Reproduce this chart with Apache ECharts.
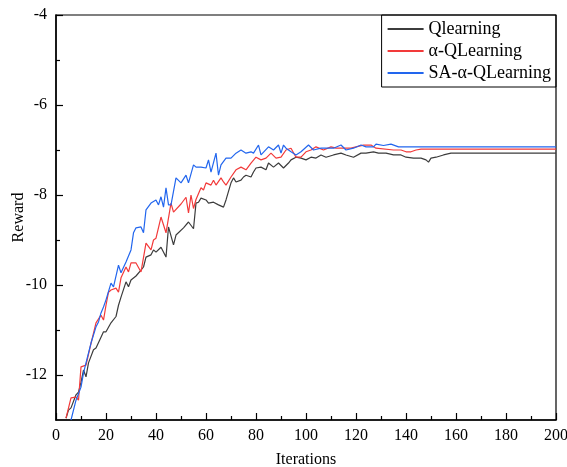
<!DOCTYPE html>
<html>
<head>
<meta charset="utf-8">
<script src="https://cdn.jsdelivr.net/npm/echarts@6/dist/echarts.min.js"></script>
<style>
  html, body { margin: 0; padding: 0; background: #fff; }
  #main { width: 567px; height: 467px; }
</style>
</head>
<body>
<div id="main"></div>
<script>
// Qlearning
var qIter = [4,5,6,8,9,10,11,12,13,15, 16,18,19,20,22,24,25,26,28,29,
  30,32,34,35,36,38,39,40,42,44, 45,47,48,51,53,55,56,57,58,60,
  61,63,65,67,68,70,71,72,74,75, 76,78,79,80,82,84,85,87,89,91,
  93,94,96,98,100,102,104,106,108,111, 114,116,119,122,124,127,129,132,135,138,
  140,143,146,148,149,150,152,155,158,160, 200];
var qReward = [-12.96,-12.78,-12.73,-12.44,-12.38,-12.16,-11.89,-12.04,-11.73,-11.44,
  -11.4,-11.16,-11.04,-11.04,-10.84,-10.7,-10.45,-10.27,-9.93,-10.04,
  -9.89,-9.8,-9.67,-9.6,-9.38,-9.33,-9.22,-9.27,-9.16,-9.38,
  -8.71,-9.11,-8.89,-8.73,-8.6,-8.75,-8.18,-8.16,-8.07,-8.11,
  -8.18,-8.16,-8.22,-8.27,-8.11,-7.73,-7.62,-7.71,-7.67,-7.6,
  -7.56,-7.6,-7.49,-7.4,-7.38,-7.44,-7.29,-7.38,-7.29,-7.4,
  -7.29,-7.22,-7.16,-7.18,-7.22,-7.16,-7.18,-7.11,-7.16,-7.11,
  -7.07,-7.11,-7.16,-7.07,-7.07,-7.04,-7.07,-7.07,-7.11,-7.11,
  -7.16,-7.18,-7.18,-7.22,-7.27,-7.18,-7.16,-7.11,-7.07,-7.07,
  -7.07];

// α-QLearning
var aIter = [4,6,8,9,10,12,14,16,18,19, 20,21,22,24,25,26,28,29,30,32,
  34,36,38,39,40,42,44,46,47,50, 52,53,54,55,56,58,59,60,62,63,
  64,66,67,68,70,72,74,76,78,80, 82,84,86,88,90,92,94,96,98,100,
  102,104,107,110,112,115,118,120,123,126, 128,135,138,140,142,144,146,200];
var aReward = [-12.96,-12.51,-12.49,-12.56,-11.82,-11.78,-11.3,-10.84,-10.67,-10.78,
  -10.45,-10.16,-10.11,-10.07,-10.16,-9.84,-9.6,-9.71,-9.51,-9.51,
  -9.71,-9.07,-9.22,-9.0,-8.96,-8.49,-8.84,-8.18,-8.38,-8.2,
  -8.05,-8.4,-8.0,-8.3,-8.1,-7.84,-7.89,-7.73,-7.78,-7.67,
  -7.78,-7.62,-7.71,-7.78,-7.6,-7.44,-7.38,-7.44,-7.29,-7.16,
  -7.22,-7.18,-7.07,-7.18,-7.16,-7.0,-6.96,-7.16,-7.16,-7.04,
  -7.0,-6.93,-7.0,-6.93,-6.96,-6.96,-6.96,-6.93,-6.89,-6.89,
  -6.96,-7.0,-7.0,-7.04,-7.04,-7.0,-6.98,-6.98];

// SA-α-QLearning
var sIter = [6,8,10,11,12,14,16,17,18,19, 20,22,23,25,26,28,30,31,32,34,
  35,36,38,40,41,42,43,44,45,46, 48,50,52,53,55,56,58,60,61,62,
  64,65,66,68,70,72,74,76,78,79, 81,82,85,87,89,90,91,92,94,96,
  98,101,103,106,108,111,114,116,119,122, 124,127,128,131,134,137,139,200];
var sReward = [-13.0,-12.56,-12.27,-11.96,-11.73,-11.29,-10.93,-10.82,-10.62,-10.49,
  -10.33,-9.96,-10.04,-9.56,-9.73,-9.49,-9.22,-8.84,-8.73,-8.71,
  -8.84,-8.33,-8.18,-8.11,-8.22,-8.04,-8.27,-7.84,-8.22,-8.22,
  -7.62,-7.73,-7.56,-7.73,-7.33,-7.38,-7.38,-7.4,-7.22,-7.49,
  -7.07,-7.56,-7.33,-7.18,-7.18,-7.07,-7.0,-7.07,-7.04,-7.07,
  -6.89,-7.11,-6.93,-7.0,-6.89,-7.07,-6.89,-6.96,-7.04,-7.11,
  -7.04,-6.89,-7.0,-6.96,-6.96,-6.96,-6.89,-7.0,-6.96,-6.89,
  -6.93,-6.93,-6.87,-6.9,-6.87,-6.93,-6.93,-6.93];

var names = ['Qlearning', 'α-QLearning', 'SA-α-QLearning'];
var colors = ['#3c3c3c', '#f23a3a', '#2266ee'];
var yMajor = [-12, -10, -8, -6, -4];
var yMinor = [-11, -9, -7, -5];

function zip(xs, ys) {
  var out = [];
  for (var i = 0; i < xs.length; i++) out.push([xs[i], ys[i]]);
  return out;
}

var font = 'Liberation Serif';
var myChart = echarts.init(document.getElementById('main'));
var option = {
  animation: false,
  textStyle: { fontFamily: font },
  grid: {
    left: 56, right: 11, top: 15, bottom: 47,
    outerBoundsMode: 'none', containLabel: false,
    show: true, borderColor: '#000', borderWidth: 1.2
  },
  legend: {
    orient: 'vertical',
    top: 15, right: 11,
    data: names,
    itemWidth: 36, itemHeight: 14, itemGap: 4,
    padding: [5, 5, 5, 5],
    borderColor: '#000', borderWidth: 1,
    itemStyle: { opacity: 0 },
    textStyle: { fontFamily: font, fontSize: 18, color: '#000' }
  },
  xAxis: {
    type: 'value', min: 0, max: 200, interval: 20,
    name: 'Iterations', nameLocation: 'middle', nameGap: 32,
    nameTextStyle: { fontFamily: font, fontSize: 16, color: '#000' },
    axisLine: { lineStyle: { color: '#000', width: 1.5 } },
    axisTick: { inside: true, length: 7, lineStyle: { color: '#000', width: 1.2 } },
    minorTick: { show: true, splitNumber: 2, length: 4, lineStyle: { color: '#000', width: 1.2 } },
    axisLabel: { fontFamily: font, fontSize: 16, color: '#000', margin: 8 },
    splitLine: { show: false }
  },
  yAxis: [{
    type: 'value', min: -13, max: -4,
    name: 'Reward', nameLocation: 'middle', nameGap: 29, nameMoveOverlap: false,
    nameTextStyle: { fontFamily: font, fontSize: 16, color: '#000' },
    axisLine: { lineStyle: { color: '#000', width: 1.5 } },
    axisTick: { inside: true, length: 7, customValues: yMajor, lineStyle: { color: '#000', width: 1.2 } },
    axisLabel: { fontFamily: font, fontSize: 16, color: '#000', margin: 9, customValues: yMajor },
    splitLine: { show: false }
  }, {
    type: 'value', min: -13, max: -4, position: 'left',
    axisLine: { show: false },
    axisTick: { show: true, inside: true, length: 4, customValues: yMinor, lineStyle: { color: '#000', width: 1.2 } },
    axisLabel: { show: false },
    splitLine: { show: false }
  }],
  series: [
    { name: names[0], type: 'line', symbol: 'none', data: zip(qIter, qReward),
      lineStyle: { color: colors[0], width: 1.2 }, itemStyle: { color: colors[0] } },
    { name: names[1], type: 'line', symbol: 'none', data: zip(aIter, aReward),
      lineStyle: { color: colors[1], width: 1.2 }, itemStyle: { color: colors[1] } },
    { name: names[2], type: 'line', symbol: 'none', data: zip(sIter, sReward),
      lineStyle: { color: colors[2], width: 1.2 }, itemStyle: { color: colors[2] } }
  ]
};
option && myChart.setOption(option);
</script>
</body>
</html>
